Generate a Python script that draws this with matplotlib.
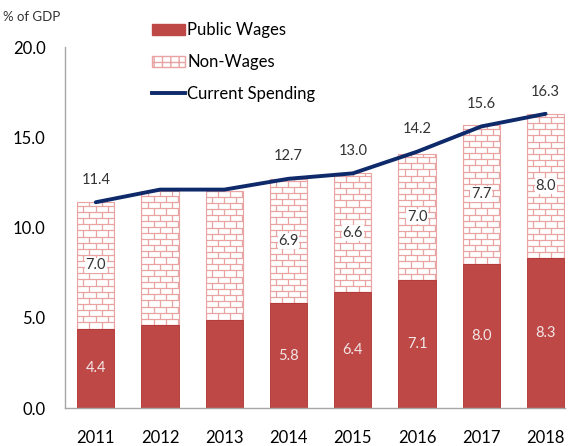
import numpy as np
import matplotlib
matplotlib.use("Agg")
import matplotlib.pyplot as plt
from matplotlib.collections import LineCollection
from matplotlib.patches import Patch
from matplotlib.lines import Line2D

plt.rcParams['font.family'] = ['Lato', 'DejaVu Sans']

years = ['2011', '2012', '2013', '2014', '2015', '2016', '2017', '2018']
public_wages = [4.4, 4.6, 4.9, 5.8, 6.4, 7.1, 8.0, 8.3]
non_wages = [7.0, 7.4, 7.1, 6.9, 6.6, 7.0, 7.7, 8.0]
current_spending = [11.4, 12.1, 12.1, 12.7, 13.0, 14.2, 15.6, 16.3]
# years whose wage / non-wage segments carry a value label
segment_labelled = ['2011', '2014', '2015', '2016', '2017', '2018']
total_labelled = ['2011', '2014', '2015', '2016', '2017', '2018']
yticks = [0.0, 5.0, 10.0, 15.0, 20.0]

RED = '#BE4846'
BRICK = '#E9A3A3'
NAVY = '#0E2A6A'
TXT = '#333333'
BAR_W = 0.58


def brick_fill(ax, patch, brick_w=0.19, brick_h=0.34):
    """Draw a staggered brick texture clipped to a bar."""
    x0, y0 = patch.get_x(), patch.get_y()
    w, h = patch.get_width(), patch.get_height()
    segs = []
    n_rows = int(np.ceil(h / brick_h)) + 1
    for r in range(n_rows):
        yb = y0 + r * brick_h
        segs.append([(x0, yb), (x0 + w, yb)])
        shift = 0 if r % 2 == 0 else brick_w / 2
        xs = np.arange(x0 - brick_w + shift, x0 + w + brick_w, brick_w)
        for xv in xs:
            segs.append([(xv, yb), (xv, yb + brick_h)])
    lc = LineCollection(segs, colors=BRICK, linewidths=0.9, zorder=2)
    ax.add_collection(lc)
    lc.set_clip_path(patch.get_path(), patch.get_transform())


fig = plt.figure(figsize=(5.70, 4.46), dpi=100)
ax = fig.add_axes([0.114, 0.0852, 0.877, 0.8094])

x = np.arange(len(years))
ax.bar(x, public_wages, BAR_W, color=RED, edgecolor='#B03030',
       linewidth=0.6, zorder=2)
nw_bars = ax.bar(x, non_wages, BAR_W, bottom=public_wages, color='white',
                 edgecolor=BRICK, linewidth=0.8, zorder=1)
for p in nw_bars:
    brick_fill(ax, p)

ax.plot(x, current_spending, color=NAVY, linewidth=2.8, zorder=4,
        solid_capstyle='round')

for i, yr in enumerate(years):
    if yr in segment_labelled:
        ax.text(x[i], public_wages[i] / 2, f'{public_wages[i]:.1f}',
                ha='center', va='center', color='#F2E6E6', fontsize=10.5,
                zorder=5)
        ax.text(x[i], public_wages[i] + non_wages[i] / 2, f'{non_wages[i]:.1f}',
                ha='center', va='center', color=TXT, fontsize=10.5, zorder=5,
                bbox=dict(facecolor='white', edgecolor='none', pad=0.5))
    if yr in total_labelled:
        ax.annotate(f'{current_spending[i]:.1f}', (x[i], current_spending[i]),
                    xytext=(0, 11), textcoords='offset points',
                    ha='center', va='bottom', color=TXT, fontsize=10.5, zorder=5)

ax.set_xlim(-0.48, 7.3)
ax.set_ylim(0, 20)
ax.set_xticks(x)
ax.set_xticklabels(years, fontsize=12, color='black')
ax.set_yticks(yticks)
ax.set_yticklabels([f'{v:.1f}' for v in yticks], fontsize=12, color='black')
ax.tick_params(axis='x', length=0, pad=16)
ax.tick_params(axis='y', length=0, pad=14)
for side in ['top', 'right']:
    ax.spines[side].set_visible(False)
for side in ['left', 'bottom']:
    ax.spines[side].set_color('#A6A6A6')
    ax.spines[side].set_linewidth(1.0)

fig.text(0.005, 0.962, '% of GDP', fontsize=9.5, color=TXT, va='center')

plt.rcParams['hatch.color'] = BRICK
handles = [
    Patch(facecolor=RED, edgecolor=RED, label='Public Wages'),
    Patch(facecolor='white', edgecolor=BRICK, hatch='++', label='Non-Wages'),
    Line2D([0], [0], color=NAVY, linewidth=2.8, label='Current Spending'),
]
leg = fig.legend(handles=handles, loc='upper left',
                 bbox_to_anchor=(0.255, 0.965), frameon=False, fontsize=12,
                 handlelength=2.0, handleheight=0.6, handletextpad=0.1,
                 labelspacing=0.95, borderaxespad=0)

fig.savefig('out.png', dpi=100)
